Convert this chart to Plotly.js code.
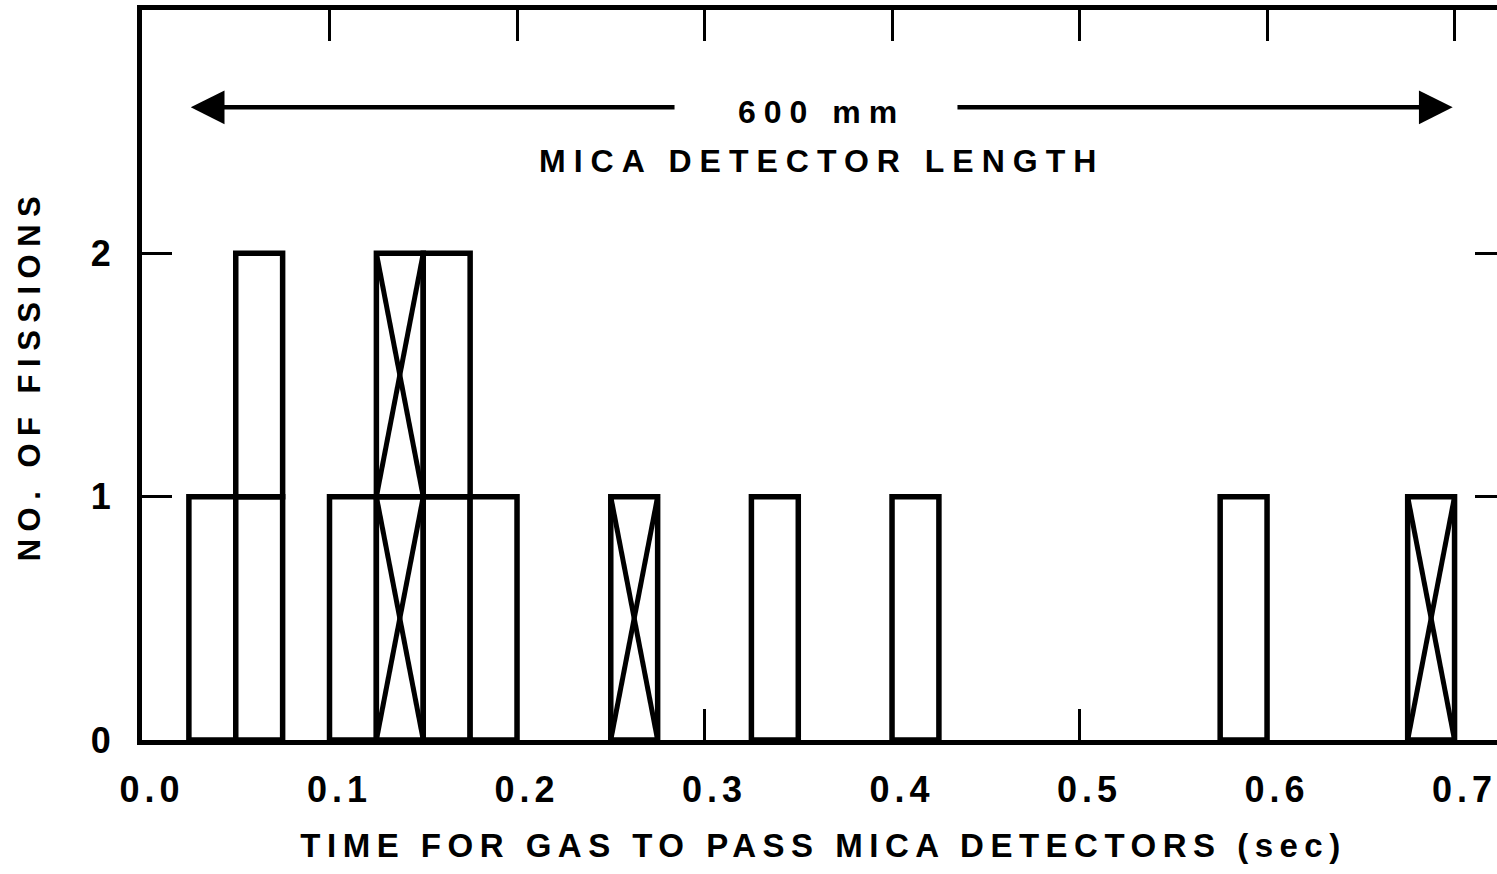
<!DOCTYPE html>
<html>
<head>
<meta charset="utf-8">
<script src="https://cdn.plot.ly/plotly-3.0.1.min.js"></script>
<style>
  html, body { margin: 0; padding: 0; overflow: hidden; background: #fff; }
  #chart { width: 1505px; height: 874px; }
  .xtick text, .ytick text { letter-spacing: 5px; }
  .xtitle { letter-spacing: 6.5px; }
  .ytitle { letter-spacing: 7.5px; }
  .annotation-text { letter-spacing: 8px; }
</style>
</head>
<body>
<div id="chart"></div>
<script>
// ---- data ----
const binWidth = 0.025;                       // s
const binStart = [0.025, 0.05, 0.1, 0.125, 0.15, 0.175, 0.25, 0.325, 0.4, 0.575, 0.675];
const plainCount   = [1, 2, 1, 0, 2, 1, 0, 1, 1, 1, 0];   // open boxes
const crossedCount = [0, 0, 0, 2, 0, 0, 1, 0, 0, 0, 1];   // boxes marked with an X
const xTickVals = [0, 0.1, 0.2, 0.3, 0.4, 0.5, 0.6, 0.7];
const xTickText = ['0.0', '0.1', '0.2', '0.3', '0.4', '0.5', '0.6', '0.7'];
const yTickVals = [0, 1, 2];
const yTickText = ['0', '1', '2'];
const detectorStart = 0.026, detectorEnd = 0.699;  // extent of the 600 mm arrow (s)

// ---- build one unit box per fission ----
const boxX = [], boxBase = [], boxY = [];
const crossX = [], crossY = [];
binStart.forEach((s, i) => {
  const total = plainCount[i] + crossedCount[i];
  for (let k = 0; k < total; k++) {
    boxX.push(s + binWidth / 2);
    boxBase.push(k);
    boxY.push(1);
  }
  for (let k = 0; k < crossedCount[i]; k++) {
    crossX.push(s, s + binWidth, null, s, s + binWidth, null);
    crossY.push(k, k + 1, null, k + 1, k, null);
  }
});

const font = { family: 'Liberation Sans, Arial, Helvetica, sans-serif', color: '#000', weight: 'bold' };

const traces = [
  {
    type: 'bar', x: boxX, y: boxY, base: boxBase, width: binWidth,
    marker: { color: '#fff', line: { color: '#000', width: 5.5 } },
    hoverinfo: 'skip', showlegend: false
  },
  {
    type: 'scatter', mode: 'lines', x: crossX, y: crossY,
    line: { color: '#000', width: 5 }, connectgaps: false,
    hoverinfo: 'skip', showlegend: false
  }
];

const arrowY = 2.60;
const layout = {
  width: 1505, height: 874,
  margin: { l: 142, r: 0, t: 10, b: 134 },
  paper_bgcolor: '#fff', plot_bgcolor: '#fff',
  showlegend: false, hovermode: false,
  barmode: 'overlay',
  xaxis: {
    range: [0, 0.7269], tickvals: xTickVals, ticktext: xTickText,
    ticks: 'inside', ticklen: 31, tickwidth: 3, tickcolor: '#000',
    showline: true, linewidth: 5, linecolor: '#000', mirror: 'ticks',
    showgrid: false, zeroline: false, fixedrange: true,
    tickfont: Object.assign({ size: 36 }, font),
    ticklabelshift: 10, ticklabelstandoff: 14,
    title: { text: 'TIME FOR GAS TO PASS MICA DETECTORS (sec)', font: Object.assign({ size: 33 }, font), standoff: 26 },
    automargin: false
  },
  yaxis: {
    range: [0, 3], tickvals: yTickVals, ticktext: yTickText,
    ticks: 'inside', ticklen: 30, tickwidth: 3, tickcolor: '#000',
    showline: true, linewidth: 5, linecolor: '#000', mirror: 'ticks',
    showgrid: false, zeroline: false, fixedrange: true,
    tickfont: Object.assign({ size: 36 }, font),
    ticklabelstandoff: 14,
    title: { text: 'NO. OF FISSIONS', font: Object.assign({ size: 31 }, font), standoff: 42 },
    automargin: false
  },
  annotations: [
    { x: detectorStart, y: arrowY, ax: 0.2848, ay: arrowY, xref: 'x', yref: 'y', axref: 'x', ayref: 'y',
      text: '', showarrow: true, arrowhead: 2, arrowsize: 1.5, arrowwidth: 4.5, arrowcolor: '#000' },
    { x: detectorEnd, y: arrowY, ax: 0.4341, ay: arrowY, xref: 'x', yref: 'y', axref: 'x', ayref: 'y',
      text: '', showarrow: true, arrowhead: 2, arrowsize: 1.5, arrowwidth: 4.5, arrowcolor: '#000' },
    { x: (detectorStart + detectorEnd) / 2, y: 2.58, xref: 'x', yref: 'y', showarrow: false,
      text: '600 mm', font: Object.assign({ size: 32 }, font) },
    { x: (detectorStart + detectorEnd) / 2, y: 2.38, xref: 'x', yref: 'y', showarrow: false,
      text: 'MICA DETECTOR LENGTH', font: Object.assign({ size: 32 }, font) }
  ]
};

Plotly.newPlot('chart', traces, layout, { displayModeBar: false, staticPlot: true });
</script>
</body>
</html>
